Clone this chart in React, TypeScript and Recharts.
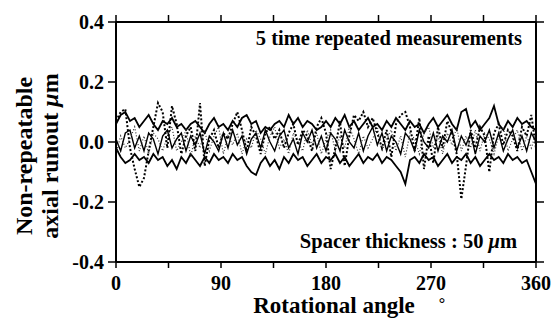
import React from 'react';
import { LineChart, Line, XAxis, YAxis } from 'recharts';

// rotational angle, deg
const angles = [
  0, 4, 8, 12, 16, 20, 24, 28, 32, 36,
  40, 44, 48, 52, 56, 60, 64, 68, 72, 76,
  80, 84, 88, 92, 96, 100, 104, 108, 112, 116,
  120, 124, 128, 132, 136, 140, 144, 148, 152, 156,
  160, 164, 168, 172, 176, 180, 184, 188, 192, 196,
  200, 204, 208, 212, 216, 220, 224, 228, 232, 236,
  240, 244, 248, 252, 256, 260, 264, 268, 272, 276,
  280, 284, 288, 292, 296, 300, 304, 308, 312, 316,
  320, 324, 328, 332, 336, 340, 344, 348, 352, 356,
  360,
];

// non-repeatable runout, um (5 runs)
const run1 = [
  0.06, 0.09, 0.1, 0.07, 0.08, 0.05, 0.07, 0.09, 0.06, 0.04,
  0.07, 0.06, 0.08, 0.05, 0.06, 0.04, 0.06, 0.07, 0.05, 0.03,
  0.06, 0.08, 0.05, 0.06, 0.04, 0.07, 0.05, 0.08, 0.09, 0.06,
  0.07, 0.03, 0.05, 0.04, 0.06, 0.07, 0.05, 0.09, 0.06, 0.08,
  0.05, 0.07, 0.06, 0.04, 0.05, 0.07, 0.05, 0.08, 0.06, 0.09,
  0.05, 0.07, 0.04, 0.06, 0.08, 0.05, 0.06, 0.04, 0.07, 0.05,
  0.08, 0.06, 0.04, 0.07, 0.05, 0.06, 0.03, 0.06, 0.08, 0.05,
  0.07, 0.09, 0.06, 0.04, 0.1, 0.11, 0.05, 0.07, 0.04, 0.06,
  0.08, 0.12, 0.06, 0.04, 0.07, 0.05, 0.08, 0.06, 0.07, 0.05,
  0.04,
];
const run2 = [
  -0.02, -0.05, -0.07, -0.06, -0.04, -0.06, -0.05, -0.07, -0.04, -0.06,
  -0.05, -0.08, -0.06, -0.09, -0.05, -0.07, -0.04, -0.06, -0.08, -0.05,
  -0.07, -0.04, -0.06, -0.05, -0.07, -0.04, -0.06, -0.05, -0.08, -0.1,
  -0.11, -0.07, -0.05, -0.08, -0.06, -0.09, -0.05, -0.07, -0.04, -0.06,
  -0.05, -0.08, -0.06, -0.04, -0.07, -0.05, -0.06, -0.04, -0.07, -0.05,
  -0.08, -0.06, -0.04, -0.07, -0.05, -0.06, -0.04, -0.07, -0.05, -0.06,
  -0.08, -0.1, -0.14, -0.06, -0.05, -0.07, -0.04, -0.06, -0.05, -0.08,
  -0.06, -0.04, -0.07, -0.05, -0.06, -0.04, -0.07, -0.05, -0.08, -0.06,
  -0.04, -0.06, -0.05, -0.07, -0.04, -0.06, -0.05, -0.07, -0.06, -0.1,
  -0.14,
];
const run3 = [
  0.07, 0.1, 0.11, -0.02, -0.09, -0.15, -0.12, -0.03, 0.05, 0.13,
  0.1, -0.02, 0.12, 0.06, -0.04, 0.02, 0.05, -0.03, 0.13, -0.08,
  0.01, 0.04, -0.02, 0.03, 0.01, 0.06, 0.1, 0.04, -0.03, 0.05,
  0.02, -0.04, 0.03, 0.05, 0.01, 0.04, -0.02, 0.03, 0.06, -0.01,
  0.04, 0.02, -0.03, 0.05, 0.08, 0.03, -0.09, -0.02, 0.07, -0.08,
  0.02, 0.09, 0.07, 0.1, 0.05, 0.08, 0.03, -0.02, 0.04, -0.05,
  0.06, 0.09, 0.1, 0.05, -0.03, 0.08, -0.09, 0.02, -0.07, 0.05,
  -0.02, 0.07, 0.03, -0.04, -0.19, -0.08, 0.04, -0.02, 0.05, 0.02,
  -0.1, 0.03, 0.06, -0.01, 0.04, 0.02, -0.03, 0.05, 0.02, 0.09,
  -0.02,
];
const run4 = [
  0.01, -0.03, 0.03, 0.04, -0.02, 0.02, -0.03, 0.03, 0.01, -0.04,
  0.02, 0.04, -0.02, 0.01, 0.03, -0.03, 0.02, -0.01, 0.03, -0.04,
  0.02, 0, -0.03, 0.03, -0.02, 0.04, -0.01, 0.02, -0.04, 0.01,
  0.03, -0.02, 0.04, 0, -0.03, 0.02, 0.04, -0.02, 0.01, -0.04,
  0.03, 0, 0.04, -0.02, 0.02, -0.03, 0.03, 0.01, -0.03, 0.04,
  0, -0.02, 0.03, -0.03, 0.02, 0.05, -0.01, 0.03, -0.03, 0.02,
  0, -0.04, 0.03, 0.01, -0.03, 0.04, 0, -0.02, 0.03, -0.03,
  0.02, 0, 0.04, -0.03, 0.02, -0.01, 0.03, -0.04, 0.02, 0,
  0.04, -0.02, 0.03, -0.03, 0.01, 0.04, -0.02, 0.02, -0.03, 0.03,
  0,
];
const run5 = [
  -0.04, 0.02, -0.02, 0.01, 0.05, -0.03, 0.02, -0.04, 0.03, 0.01,
  -0.03, 0.02, 0.05, -0.03, 0, 0.04, -0.05, 0.02, -0.02, 0.04,
  -0.03, 0.02, 0.05, -0.04, 0.02, -0.01, 0.03, -0.04, 0.01, -0.02,
  0.04, 0.01, -0.04, 0.02, 0.05, -0.02, 0.01, -0.04, 0.03, 0,
  -0.03, 0.04, -0.01, 0.03, -0.04, 0.01, 0.04, -0.03, 0.02, -0.02,
  0.05, 0.01, -0.04, 0.02, -0.02, 0.01, 0.05, -0.03, 0.01, 0.04,
  -0.03, 0.02, -0.05, 0.03, 0.01, -0.04, 0.03, 0.05, -0.02, 0.02,
  -0.04, 0.03, -0.01, 0.05, -0.03, 0.02, -0.02, 0.04, -0.03, 0.03,
  0.01, -0.04, 0.02, 0.05, -0.03, 0.01, 0.04, -0.03, 0.02, -0.02,
  0.03,
];

const xTicks = [0, 45, 90, 135, 180, 225, 270, 315, 360];
const xLabelled = [0, 90, 180, 270, 360];
const yTicks = [-0.4, -0.2, 0, 0.2, 0.4];

const FONT = '"Liberation Serif", "Times New Roman", serif';

const data = angles.map((a, i) => ({
  angle: a,
  r1: run1[i],
  r2: run2[i],
  r3: run3[i],
  r4: run4[i],
  r5: run5[i],
}));

const noLabel = () => <g />;

// only every 90 deg gets a number, the 45s are bare ticks
const BottomTick = (props: any) => {
  const { x, y, payload } = props;
  if (!xLabelled.includes(payload.value)) return <g />;
  return (
    <text x={x} y={y} dy="0.71em" textAnchor="middle" fontFamily={FONT} fontWeight={700} fontSize={20} fill="#000">
      {payload.value}
    </text>
  );
};

export default function App() {
  const tickFont = { fontFamily: FONT, fontWeight: 700, fontSize: 20, fill: '#000' };
  const axisLine = { stroke: '#000', strokeWidth: 2 };
  const tickLine = { stroke: '#000', strokeWidth: 1.5 };

  return (
    <div style={{ position: 'absolute', left: 0, top: 0, width: 555, height: 320, background: '#fff' }}>
      <LineChart width={555} height={320} data={data} margin={{ top: 21, right: 18, bottom: 0, left: 0 }}>
        <XAxis
          dataKey="angle"
          type="number"
          domain={[0, 360]}
          ticks={xTicks}
          height={58}
          tickSize={6}
          tickMargin={8}
          tick={BottomTick}
          axisLine={axisLine}
          tickLine={tickLine}
          interval={0}
        />
        <XAxis
          xAxisId="top"
          orientation="top"
          dataKey="angle"
          type="number"
          domain={[0, 360]}
          allowDataOverflow
          ticks={xTicks}
          height={1}
          tickSize={7}
          tick={noLabel}
          axisLine={axisLine}
          tickLine={tickLine}
          interval={0}
        />
        <YAxis
          type="number"
          domain={[-0.4, 0.4]}
          ticks={yTicks}
          width={116}
          tickSize={8}
          tickMargin={4}
          tick={tickFont}
          tickFormatter={(v: number) => v.toFixed(1)}
          axisLine={axisLine}
          tickLine={tickLine}
          interval={0}
        />
        <YAxis
          yAxisId="right"
          orientation="right"
          type="number"
          domain={[-0.4, 0.4]}
          allowDataOverflow
          ticks={yTicks}
          width={1}
          tickSize={8}
          tick={noLabel}
          axisLine={axisLine}
          tickLine={tickLine}
          interval={0}
        />
        <Line dataKey="r1" type="linear" stroke="#000" strokeWidth={1.8} dot={false} isAnimationActive={false} />
        <Line dataKey="r2" type="linear" stroke="#000" strokeWidth={1.8} dot={false} isAnimationActive={false} />
        <Line dataKey="r4" type="linear" stroke="#000" strokeWidth={1.4} dot={false} isAnimationActive={false} />
        <Line dataKey="r5" type="linear" stroke="#333" strokeWidth={1.2} strokeDasharray="1 2" dot={false} isAnimationActive={false} />
        <Line dataKey="r3" type="linear" stroke="#000" strokeWidth={2} strokeDasharray="2 2" dot={false} isAnimationActive={false} />
      </LineChart>
      <svg width={555} height={320} style={{ position: 'absolute', left: 0, top: 0, pointerEvents: 'none' }}>
        <g fontFamily={FONT} fontWeight={700} fill="#000">
          <text x={522} y={45} fontSize={20.5} textAnchor="end">5 time repeated measurements</text>
          <text x={517} y={248} fontSize={20.5} textAnchor="end">
            Spacer thickness : 50 <tspan fontStyle="italic">μ</tspan>m
          </text>
          <text x={334} y={313} fontSize={23} textAnchor="middle">Rotational angle</text>
          <text x={442} y={309} fontSize={16} textAnchor="middle">°</text>
          <text transform="translate(32,156) rotate(-90)" fontSize={24} textAnchor="middle">Non-repeatable</text>
          <text transform="translate(58,156) rotate(-90)" fontSize={24} textAnchor="middle">
            axial runout  <tspan fontStyle="italic">μ</tspan>m
          </text>
        </g>
      </svg>
    </div>
  );
}
